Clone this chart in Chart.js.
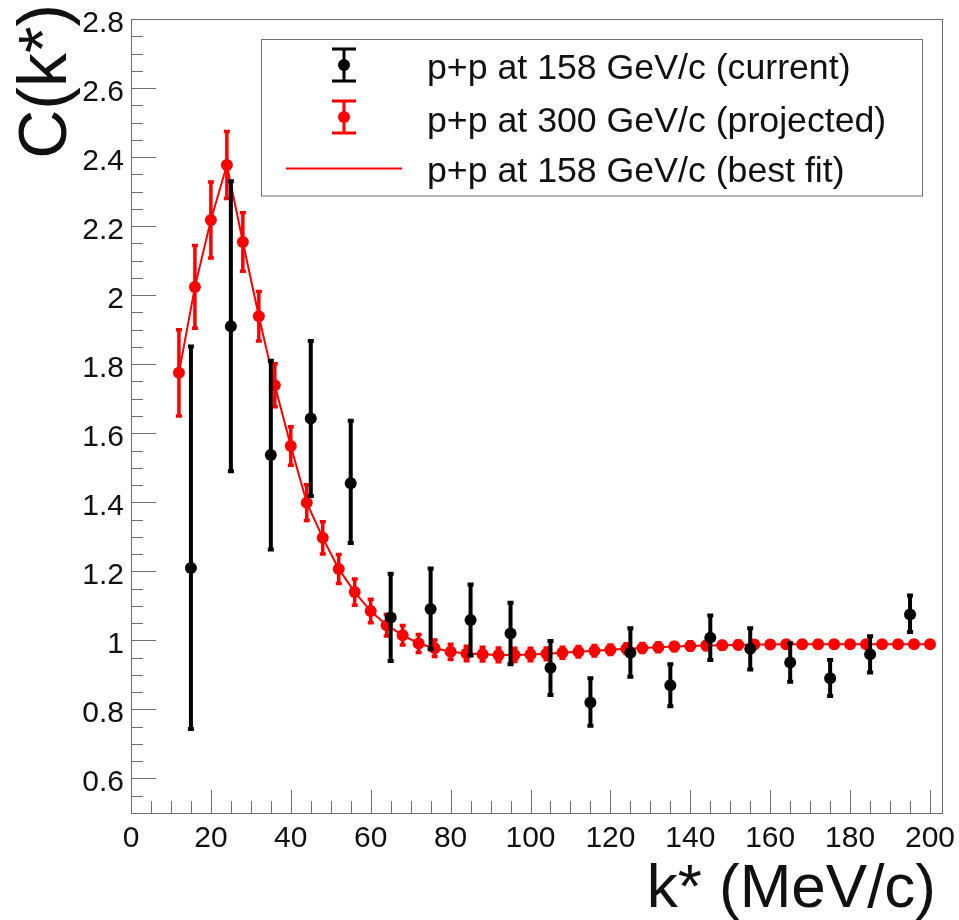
<!DOCTYPE html>
<html>
<head>
<meta charset="utf-8">
<style>
html,body{margin:0;padding:0;background:#fff;}
#wrap{width:959px;height:920px;position:relative;}
canvas{display:block;}
</style>
<script src="https://cdn.jsdelivr.net/npm/chart.js@4.4.1/dist/chart.umd.min.js"></script>
</head>
<body>
<div id="wrap"><canvas id="c" width="959" height="920"></canvas></div>
<script>
// ---------------- DATA ----------------
// p+p at 158 GeV/c (current): bin centres, values, asymmetric errors
const kCurrent = [15, 25, 35, 45, 55, 65, 75, 85, 95, 105, 115, 125, 135, 145, 155, 165, 175, 185, 195];
const cCurrent = [1.21, 1.91, 1.537, 1.643, 1.455, 1.066, 1.091, 1.059, 1.02, 0.921, 0.82, 0.964, 0.87, 1.008, 0.976, 0.936, 0.89, 0.96, 1.075];
const errUpCurrent = [0.641, 0.42, 0.273, 0.224, 0.181, 0.127, 0.117, 0.103, 0.089, 0.077, 0.07, 0.071, 0.061, 0.064, 0.059, 0.056, 0.053, 0.052, 0.055];
const errDnCurrent = [0.467, 0.42, 0.274, 0.225, 0.173, 0.126, 0.117, 0.103, 0.089, 0.079, 0.067, 0.069, 0.061, 0.065, 0.06, 0.056, 0.051, 0.053, 0.051];

// p+p at 300 GeV/c (projected)
const kProjected = [12, 16, 20, 24, 28, 32, 36, 40, 44, 48, 52, 56, 60, 64, 68, 72, 76, 80, 84, 88, 92, 96, 100, 104,
  108, 112, 116, 120, 124, 128, 132, 136, 140, 144, 148, 152, 156, 160, 164, 168, 172, 176, 180, 184, 188, 192, 196, 200];
const cProjected = [1.775, 2.024, 2.218, 2.377, 2.154, 1.939, 1.739, 1.563, 1.399, 1.297, 1.207, 1.14, 1.085, 1.044, 1.015, 0.991,
  0.977, 0.967, 0.962, 0.96, 0.958, 0.958, 0.959, 0.961, 0.964, 0.967, 0.97, 0.973, 0.976, 0.978, 0.98, 0.982,
  0.984, 0.985, 0.986, 0.987, 0.988, 0.988, 0.989, 0.989, 0.989, 0.989, 0.989, 0.989, 0.989, 0.989, 0.989, 0.989];
const errProjected = [0.125, 0.12, 0.11, 0.097, 0.085, 0.072, 0.062, 0.056, 0.052, 0.047, 0.042, 0.038, 0.034, 0.031, 0.028, 0.026,
  0.024, 0.022, 0.021, 0.02, 0.02, 0.019, 0.018, 0.017, 0.016, 0.015, 0.015, 0.014, 0.014, 0.013, 0.013, 0.012,
  0.012, 0.012, 0.011, 0.011, 0.011, 0.010, 0.010, 0.010, 0.010, 0.010, 0.009, 0.009, 0.009, 0.009, 0.009, 0.009];

// p+p at 158 GeV/c (best fit) curve
const kFit = [12, 16, 20, 24, 28, 32, 36, 40, 44, 48, 52, 56, 60, 64, 68, 72, 76, 80, 84, 88, 92, 96, 100, 104,
  108, 112, 116, 120, 124, 128, 132, 136, 140, 144, 148, 152, 156, 160, 164, 168, 172, 176, 180, 184, 188, 192, 196, 200];
const cFit = [1.775, 2.024, 2.218, 2.377, 2.154, 1.939, 1.739, 1.563, 1.399, 1.297, 1.207, 1.14, 1.085, 1.044, 1.015, 0.991,
  0.977, 0.967, 0.962, 0.96, 0.958, 0.958, 0.959, 0.961, 0.964, 0.967, 0.97, 0.973, 0.976, 0.978, 0.98, 0.982,
  0.984, 0.985, 0.986, 0.987, 0.988, 0.988, 0.989, 0.989, 0.989, 0.989, 0.989, 0.989, 0.989, 0.989, 0.989, 0.989];

// axes
const xTickValues = [0, 20, 40, 60, 80, 100, 120, 140, 160, 180, 200];
const xTickLabels = ['0', '20', '40', '60', '80', '100', '120', '140', '160', '180', '200'];
const yTickValues = [0.6, 0.8, 1.0, 1.2, 1.4, 1.6, 1.8, 2.0, 2.2, 2.4, 2.6, 2.8];
const yTickLabels = ['0.6', '0.8', '1', '1.2', '1.4', '1.6', '1.8', '2', '2.2', '2.4', '2.6', '2.8'];
const xTitle = 'k* (MeV/c)';
const yTitle = 'C(k*)';
const legendLabels = ['p+p at 158 GeV/c (current)', 'p+p at 300 GeV/c (projected)', 'p+p at 158 GeV/c (best fit)'];

// ---------------- CHART ----------------
const FONT = '"Liberation Sans", Arial, Helvetica, sans-serif';
const RED = '#ff0000';
const BLACK = '#000000';
const FRAME = '#6e6e6e';

function pts(xs, ys) { return xs.map((x, i) => ({ x: x, y: ys[i] })); }

const rootPlugin = {
  id: 'rootStyle',
  beforeDatasetDraw(chart, args) {
    const ds = chart.data.datasets[args.index];
    if (!ds.errUp) return;
    const xs = chart.scales.x, ys = chart.scales.y, ctx = chart.ctx;
    ctx.save();
    ctx.strokeStyle = ds.errColor;
    ctx.lineWidth = ds.errWidth;
    ctx.lineCap = 'butt';
    ds.data.forEach((p, i) => {
      const px = xs.getPixelForValue(p.x);
      const top = ys.getPixelForValue(p.y + ds.errUp[i]);
      const bot = ys.getPixelForValue(p.y - ds.errDn[i]);
      ctx.beginPath();
      ctx.moveTo(px, top); ctx.lineTo(px, bot);
      ctx.moveTo(px - 3, top); ctx.lineTo(px + 3, top);
      ctx.moveTo(px - 3, bot); ctx.lineTo(px + 3, bot);
      ctx.stroke();
    });
    ctx.restore();
  },
  afterDraw(chart) {
    const ctx = chart.ctx, xs = chart.scales.x, ys = chart.scales.y, a = chart.chartArea;
    ctx.save();
    // frame
    ctx.strokeStyle = FRAME;
    ctx.lineWidth = 1;
    ctx.strokeRect(Math.round(a.left) + 0.5, Math.round(a.top) + 0.5, Math.round(a.right - a.left), Math.round(a.bottom - a.top));
    // y ticks (inside, left)
    ctx.beginPath();
    for (let v = 0.55; v < 2.8; v += 0.05) {
      const y = Math.round(ys.getPixelForValue(v)) + 0.5;
      const major = Math.abs((v * 5) - Math.round(v * 5)) < 1e-6;
      ctx.moveTo(a.left, y); ctx.lineTo(a.left + (major ? 25 : 12), y);
    }
    // x ticks (inside, bottom)
    for (let v = 5; v <= 200; v += 5) {
      const x = Math.round(xs.getPixelForValue(v)) + 0.5;
      const major = v % 20 === 0;
      ctx.moveTo(x, a.bottom); ctx.lineTo(x, a.bottom - (major ? 23 : 12));
    }
    ctx.stroke();
    // tick labels
    ctx.fillStyle = '#111';
    ctx.font = '30px ' + FONT;
    ctx.textAlign = 'right';
    ctx.textBaseline = 'alphabetic';
    yTickValues.forEach((v, i) => {
      ctx.fillText(yTickLabels[i], a.left - 7, ys.getPixelForValue(v) + 12.5);
    });
    ctx.textAlign = 'center';
    xTickValues.forEach((v, i) => {
      ctx.fillText(xTickLabels[i], xs.getPixelForValue(v), a.bottom + 34);
    });
    // axis titles
    ctx.font = '62px ' + FONT;
    ctx.textAlign = 'right';
    ctx.fillText(xTitle, 936, 907);
    ctx.save();
    ctx.translate(66, 4);
    ctx.rotate(-Math.PI / 2);
    ctx.font = '68px ' + FONT;
    ctx.textAlign = 'right';
    ctx.fillText(yTitle, 0, 0);
    ctx.restore();
    // legend
    const L = { l: 261, t: 39.5, r: 922, b: 196 };
    ctx.fillStyle = '#fff';
    ctx.fillRect(L.l, L.t, L.r - L.l, L.b - L.t);
    ctx.strokeStyle = FRAME;
    ctx.lineWidth = 1;
    ctx.strokeRect(L.l + 0.5, L.t, L.r - L.l, L.b - L.t);
    const mx = 344;
    const rows = [65, 117, 168.5];
    [[BLACK, rows[0]], [RED, rows[1]]].forEach(([col, cy]) => {
      ctx.strokeStyle = col; ctx.fillStyle = col; ctx.lineWidth = 3;
      ctx.beginPath();
      ctx.moveTo(mx, cy - 16); ctx.lineTo(mx, cy + 16);
      ctx.moveTo(mx - 12, cy - 16); ctx.lineTo(mx + 12, cy - 16);
      ctx.moveTo(mx - 12, cy + 16); ctx.lineTo(mx + 12, cy + 16);
      ctx.stroke();
      ctx.beginPath(); ctx.arc(mx, cy, 6, 0, Math.PI * 2); ctx.fill();
    });
    ctx.strokeStyle = RED; ctx.lineWidth = 2;
    ctx.beginPath(); ctx.moveTo(286, rows[2]); ctx.lineTo(402, rows[2]); ctx.stroke();
    ctx.fillStyle = '#111';
    ctx.font = '35.7px ' + FONT;
    ctx.textAlign = 'left';
    const base = [79, 131.5, 181.5];
    legendLabels.forEach((t, i) => ctx.fillText(t, 427, base[i]));
    ctx.restore();
  }
};

const chart = new Chart(document.getElementById('c'), {
  type: 'scatter',
  data: {
    datasets: [
      {
        label: legendLabels[0],
        data: pts(kCurrent, cCurrent),
        errUp: errUpCurrent, errDn: errDnCurrent, errColor: BLACK, errWidth: 4,
        pointRadius: 6, pointHoverRadius: 6, pointBackgroundColor: BLACK, pointBorderColor: BLACK, pointBorderWidth: 0,
        showLine: false, order: 0
      },
      {
        label: legendLabels[2],
        data: pts(kFit, cFit),
        pointRadius: 0, pointHoverRadius: 0, showLine: true,
        borderColor: RED, borderWidth: 2, tension: 0, fill: false, order: 1
      },
      {
        label: legendLabels[1],
        data: pts(kProjected, cProjected),
        errUp: errProjected, errDn: errProjected, errColor: RED, errWidth: 3.5,
        pointRadius: 6, pointHoverRadius: 6, pointBackgroundColor: RED, pointBorderColor: RED, pointBorderWidth: 0,
        showLine: false, order: 2
      }
    ]
  },
  options: {
    responsive: false,
    animation: false,
    devicePixelRatio: 1,
    layout: { padding: { left: 131, top: 19, right: 17, bottom: 107 } },
    plugins: { legend: { display: false }, tooltip: { enabled: false } },
    scales: {
      x: { type: 'linear', min: 0, max: 203, display: false },
      y: { type: 'linear', min: 0.5, max: 2.8, display: false }
    }
  },
  plugins: [rootPlugin]
});
</script>
</body>
</html>
